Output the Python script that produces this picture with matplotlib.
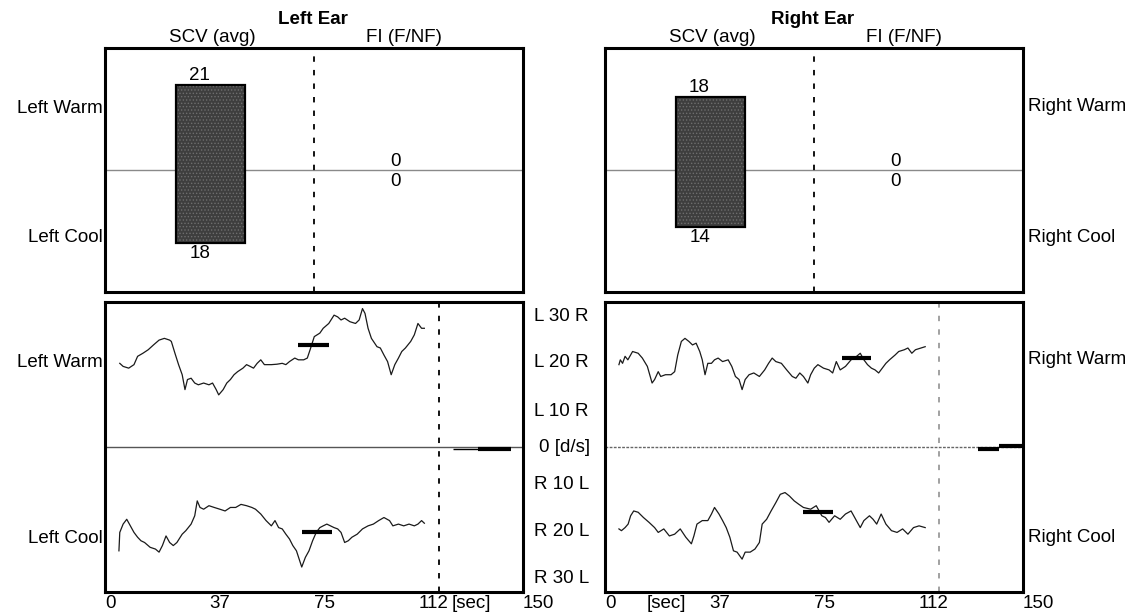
import matplotlib
matplotlib.use("Agg")
import matplotlib.pyplot as plt
from matplotlib import transforms

plt.rcParams['font.family'] = ['Liberation Sans', 'DejaVu Sans']
plt.rcParams['hatch.linewidth'] = 0.6

# ---------------- data ----------------
ears = ["Left Ear", "Right Ear"]
warm_labels = ["Left Warm", "Right Warm"]
cool_labels = ["Left Cool", "Right Cool"]
scv_warm = [21, 18]
scv_cool = [18, 14]
fi_warm = [0, 0]
fi_cool = [0, 0]

xtick_vals = [0, 37.5, 75, 112.5, 150]
xtick_text = ["0", "37", "75", "112", "150"]
vel_labels = ["L 30 R", "L 20 R", "L 10 R", "0 [d/s]", "R 10 L", "R 20 L", "R 30 L"]
vel_label_pos = [30, 19.3, 8.3, 0, -8.4, -19.3, -30]
stim_end = 120

lw_t = [5.3, 6.5, 8.5, 10.4, 11.7, 13.6, 15.5, 17.4, 19.4, 21.3, 23.2, 23.8, 25.1, 26.4, 27.7, 28.7,
        29.6, 30.9, 32.2, 33.5, 35.4, 37.3, 38.6, 39.9, 40.8, 42.4, 43.7, 45.0, 46.3, 47.6, 49.5,
        50.8, 52.1, 53.3, 54.6, 55.9, 57.2, 59.7, 61.7, 63.6, 64.9, 66.2, 68.1, 69.4, 71.3, 72.6,
        73.6, 75.1, 77.1, 78.3, 80.3, 82.2, 83.5, 84.7, 86.0, 87.9, 89.9, 91.2, 92.4, 93.3, 94.4,
        95.6, 97.6, 98.8, 100.1, 101.4, 102.7, 104.0, 105.3, 106.5, 107.8, 109.7, 111.0, 112.3,
        113.6, 114.6]
lw_v = [19.2, 18.5, 18.1, 18.9, 20.8, 21.5, 22.3, 23.4, 24.5, 24.9, 24.5, 24.2, 21.5, 18.9, 16.6, 13.2,
        15.5, 15.8, 14.7, 14.3, 14.7, 14.3, 14.7, 13.2, 12.0, 13.2, 14.7, 15.5, 16.6, 17.3, 18.1,
        18.9, 18.5, 18.1, 19.2, 20.0, 18.9, 18.9, 19.0, 19.2, 18.9, 19.6, 20.4, 20.0, 20.0, 20.4,
        22.3, 25.3, 26.1, 27.2, 28.3, 30.2, 29.8, 29.1, 29.5, 28.7, 28.3, 29.1, 31.7, 30.6, 27.2,
        24.9, 23.0, 22.7, 21.1, 19.6, 16.6, 18.9, 20.4, 21.9, 22.7, 24.2, 25.7, 28.3,
        27.2, 27.2]

lc_t = [5.0, 5.3, 6.5, 7.8, 9.1, 10.4, 11.7, 12.9, 14.2, 16.2, 18.1, 19.4, 20.6, 21.9, 23.2, 24.5,
        25.8, 27.7, 29.0, 30.9, 32.2, 33.1, 34.1, 35.4, 37.3, 39.2, 41.2, 43.1, 45.0, 46.9, 48.8,
        50.8, 52.7, 54.0, 55.9, 57.8, 59.7, 61.0, 62.3, 63.6, 64.9, 66.2, 67.4, 68.7, 70.6, 71.9,
        73.2, 74.5, 75.8, 77.1, 78.3, 79.6, 80.9, 82.2, 83.5, 84.7, 86.0, 87.3, 88.6, 90.5, 92.4,
        94.4, 96.3, 98.2, 100.1, 102.1, 103.3, 105.3, 107.2, 109.1, 111.0, 112.3, 113.6, 114.6]
lc_v = [-23.6, -19.4, -17.5, -16.4, -17.9, -19.4, -20.5, -21.3, -21.7, -22.8, -23.2, -23.9, -22.4, -20.2,
        -21.7, -22.4, -21.7, -19.8, -19.0, -17.5, -15.6, -12.2, -13.7, -14.1, -13.3, -13.7, -14.1,
        -14.5, -13.7, -13.7, -13.0, -13.3, -13.7, -14.1, -15.2, -16.7, -17.9, -16.7, -18.3, -18.6,
        -19.8, -20.9, -22.4, -23.6, -27.3, -25.1, -23.6, -21.3, -19.4, -18.3, -17.9, -17.5, -17.9,
        -18.3, -18.6, -19.4, -21.7, -21.3, -20.5, -19.8, -18.6, -17.9, -17.5, -16.7, -16.0, -16.7,
        -17.9, -17.5, -17.9, -17.5, -17.9, -17.5, -16.7, -17.3]

rw_t = [5.0, 5.5, 6.3, 7.2, 8.2, 9.9, 11.9, 13.4, 15.2, 16.9, 17.8, 19.1, 20.0, 21.7, 23.7, 25.0, 26.1,
        27.4, 28.7, 30.1, 31.4, 32.7, 34.0, 34.9, 35.9, 36.9, 38.2, 39.3, 40.6, 42.2, 44.2, 45.5,
        46.8, 48.1, 49.2, 50.3, 51.7, 53.4, 55.4, 57.3, 58.7, 60.0, 61.3, 63.3, 65.2, 67.2, 68.5,
        69.9, 71.2, 72.8, 73.8, 75.1, 76.4, 78.4, 80.4, 81.7, 83.0, 84.4, 86.3, 88.3, 90.3, 91.6,
        92.9, 94.2, 95.6, 96.9, 98.2, 99.5, 100.8, 102.1, 104.1, 105.4, 107.4, 108.7, 110.1, 111.4,
        113.4, 114.9]
rw_v = [18.9, 20.0, 19.2, 20.8, 20.0, 21.9, 21.5, 20.4, 18.5, 14.7, 15.5, 17.3, 16.2, 16.6, 16.6, 17.3,
        21.1, 24.2, 24.9, 24.2, 23.4, 23.8, 21.9, 20.0, 16.6, 19.2, 19.2, 20.0, 20.4, 19.6, 20.0,
        18.5, 16.2, 15.5, 13.2, 15.5, 16.6, 17.0, 16.2, 17.7, 19.2, 20.4, 19.6, 19.2, 17.7, 16.2,
        15.8, 17.0, 16.2, 14.7, 16.6, 18.1, 18.9, 18.1, 17.7, 17.0, 19.6, 17.7, 18.5, 20.0, 20.8,
        21.5, 20.0, 18.9, 18.1, 17.7, 17.0, 18.1, 19.2, 20.0, 21.1, 21.9, 22.3, 22.7, 21.5, 22.3,
        22.7, 23.0]

rc_t = [5.0, 5.9, 7.2, 8.3, 9.2, 10.3, 11.9, 13.8, 15.8, 17.8, 19.1, 21.1, 23.1, 25.0, 27.0, 29.0,
        31.0, 31.9, 33.0, 34.9, 36.9, 38.2, 39.3, 40.9, 42.2, 43.5, 44.8, 46.1, 47.4, 49.2, 50.3,
        52.1, 53.8, 55.4, 56.4, 58.0, 59.6, 61.3, 62.9, 64.6, 66.2, 67.9, 69.6, 71.2, 73.8, 75.8,
        77.8, 79.1, 80.4, 82.4, 84.4, 86.3, 88.3, 89.6, 91.6, 92.9, 94.9, 96.2, 97.5, 99.1, 100.8,
        102.8, 104.8, 106.8, 108.7, 110.7, 112.7, 114.9]
rc_v = [-18.6, -19.0, -18.3, -17.5, -15.6, -14.5, -14.8, -16.0, -17.1, -18.3, -19.4, -18.6, -20.2,
        -19.8, -18.6, -20.5, -22.0, -20.2, -17.5, -16.7, -16.7, -15.2, -13.7, -15.2, -16.7, -18.3,
        -20.5, -23.6, -23.9, -25.5, -23.9, -23.9, -23.2, -21.7, -17.5, -16.4, -14.5, -12.6, -10.7,
        -10.3, -11.1, -12.2, -13.0, -13.7, -14.1, -13.3, -15.6, -16.0, -17.1, -15.6, -16.4, -15.2,
        -14.5, -16.0, -18.3, -16.7, -15.6, -16.4, -17.5, -15.2, -17.5, -19.0, -19.4, -18.6, -19.8,
        -18.3, -17.9, -18.3]

# average (SCV) markers: [x_start, x_end, value]
lw_avg = [69.4, 80.3, 23.4]
lc_avg = [70.6, 81.3, -19.4]
rw_avg = [85.0, 95.3, 20.4]
rc_avg = [71.2, 81.7, -14.8]

# fixation segments after stimulus end: (x list, y list, linewidth)
left_fix = [([125, 134], [-0.3, -0.3], 1.0), ([134, 145.6], [-0.4, -0.4], 3.0)]
right_fix = [([133.8, 141.5], [-0.4, -0.4], 3.0), ([141.5, 150], [0.4, 0.4], 3.0)]

# ---------------- figure ----------------
W, H = 1137, 613
fig = plt.figure(figsize=(W / 100, H / 100), dpi=100)
FS = 13.5
SPW = 2.2


def fax(x0, y0, x1, y1):
    return fig.add_axes([x0 / W, 1 - y1 / H, (x1 - x0) / W, (y1 - y0) / H])


ax_tl = fax(105, 48, 523, 292)
ax_tr = fax(605, 48, 1023, 292)
ax_bl = fax(105, 302, 523, 592)
ax_br = fax(605, 302, 1023, 592)

for ax in (ax_tl, ax_tr, ax_bl, ax_br):
    for s in ax.spines.values():
        s.set_linewidth(SPW)
        s.set_color('black')

# ---- top panels ----
for i, ax in enumerate((ax_tl, ax_tr)):
    ax.set_xlim(0, 2)
    ax.set_ylim(-30, 30)
    ax.set_xticks([])
    ax.set_yticks([])
    ax.axhline(0, color='#8a8a8a', lw=1.0, zorder=1)
    ax.axvline(1.0, color='black', lw=1.3, linestyle=(0, (3.0, 4.5)), zorder=1)
    hgt = scv_warm[i] + scv_cool[i]
    ax.bar(0.505, hgt, bottom=-scv_cool[i], width=0.33, color='#3e3e3e',
           edgecolor='#6e6e6e', hatch='.....', lw=0, zorder=2)
    ax.bar(0.505, hgt, bottom=-scv_cool[i], width=0.33, fill=False,
           edgecolor='black', lw=1.6, zorder=3)
    ax.text(0.45, scv_warm[i] + 2.3, str(scv_warm[i]), ha='center', va='center', fontsize=FS)
    ax.text(0.455, -scv_cool[i] - 2.5, str(scv_cool[i]), ha='center', va='center', fontsize=FS)
    ax.text(1.39, 2.0, str(fi_warm[i]), ha='center', va='center', fontsize=FS)
    ax.text(1.39, -2.9, str(fi_cool[i]), ha='center', va='center', fontsize=FS)
    ax.text(0.497, 1.115, ears[i], transform=ax.transAxes, ha='center', va='center',
            fontsize=FS, fontweight='bold')
    ax.text(0.256, 1.045, "SCV (avg)", transform=ax.transAxes, ha='center', va='center', fontsize=FS)
    ax.text(0.715, 1.045, "FI (F/NF)", transform=ax.transAxes, ha='center', va='center', fontsize=FS)
    tr = transforms.blended_transform_factory(ax.transAxes, ax.transData)
    if i == 0:
        ax.text(-0.006, 15.2, warm_labels[i], transform=tr, ha='right', va='center', fontsize=FS)
        ax.text(-0.006, -16.7, cool_labels[i], transform=tr, ha='right', va='center', fontsize=FS)
    else:
        ax.text(1.012, 15.5, warm_labels[i], transform=tr, ha='left', va='center', fontsize=FS)
        ax.text(1.012, -16.5, cool_labels[i], transform=tr, ha='left', va='center', fontsize=FS)

# ---- bottom panels ----
traces = [((lw_t, lw_v, lw_avg), (lc_t, lc_v, lc_avg), left_fix),
          ((rw_t, rw_v, rw_avg), (rc_t, rc_v, rc_avg), right_fix)]
for i, ax in enumerate((ax_bl, ax_br)):
    ax.set_xlim(0, 150)
    ax.set_ylim(-33, 33.2)
    ax.set_yticks([])
    ax.set_xticks(xtick_vals)
    ax.set_xticklabels(xtick_text, fontsize=FS)
    for lab in ax.get_xticklabels():
        lab.set_ha('left')
    ax.tick_params(axis='x', length=0, pad=2)
    if i == 0:
        ax.axhline(0, color='#555555', lw=1.0, zorder=1)
        ax.axvline(stim_end, color='black', lw=1.3, linestyle=(0, (3.0, 4.5)), zorder=1)
    else:
        ax.axhline(0, color='#666666', lw=1.0, linestyle=(0, (2, 1)), zorder=1)
        ax.axvline(stim_end, color='#9a9a9a', lw=1.3, linestyle=(0, (3.0, 4.5)), zorder=1)
    (wt, wv, wa), (ct, cv, ca), fix = traces[i]
    ax.plot(wt, wv, color='#1a1a1a', lw=0.9, zorder=3)
    ax.plot(ct, cv, color='#1a1a1a', lw=0.9, zorder=3)
    ax.plot([wa[0], wa[1]], [wa[2], wa[2]], color='black', lw=3.0, solid_capstyle='butt', zorder=4)
    ax.plot([ca[0], ca[1]], [ca[2], ca[2]], color='black', lw=3.0, solid_capstyle='butt', zorder=4)
    for fx, fy, flw in fix:
        ax.plot(fx, fy, color='black', lw=flw, solid_capstyle='butt', zorder=4)
    tr = transforms.blended_transform_factory(ax.transAxes, ax.transData)
    sec_x = 124.5 if i == 0 else 15.1
    ax.annotate("[sec]", xy=(sec_x, 0), xycoords=('data', 'axes fraction'),
                xytext=(0, -2), textcoords='offset points', ha='left', va='top', fontsize=FS)
    if i == 0:
        ax.text(-0.006, 19.5, warm_labels[i], transform=tr, ha='right', va='center', fontsize=FS)
        ax.text(-0.006, -20.9, cool_labels[i], transform=tr, ha='right', va='center', fontsize=FS)
        for lab, pos in zip(vel_labels, vel_label_pos):
            if lab.startswith("0"):
                ax.text(1.160, pos, lab, transform=tr, ha='right', va='center', fontsize=FS)
            else:
                ax.text(1.092, pos, lab, transform=tr, ha='center', va='center', fontsize=FS)
    else:
        ax.text(1.012, 20.0, warm_labels[i], transform=tr, ha='left', va='center', fontsize=FS)
        ax.text(1.012, -20.5, cool_labels[i], transform=tr, ha='left', va='center', fontsize=FS)

fig.savefig("out.png", dpi=100)
